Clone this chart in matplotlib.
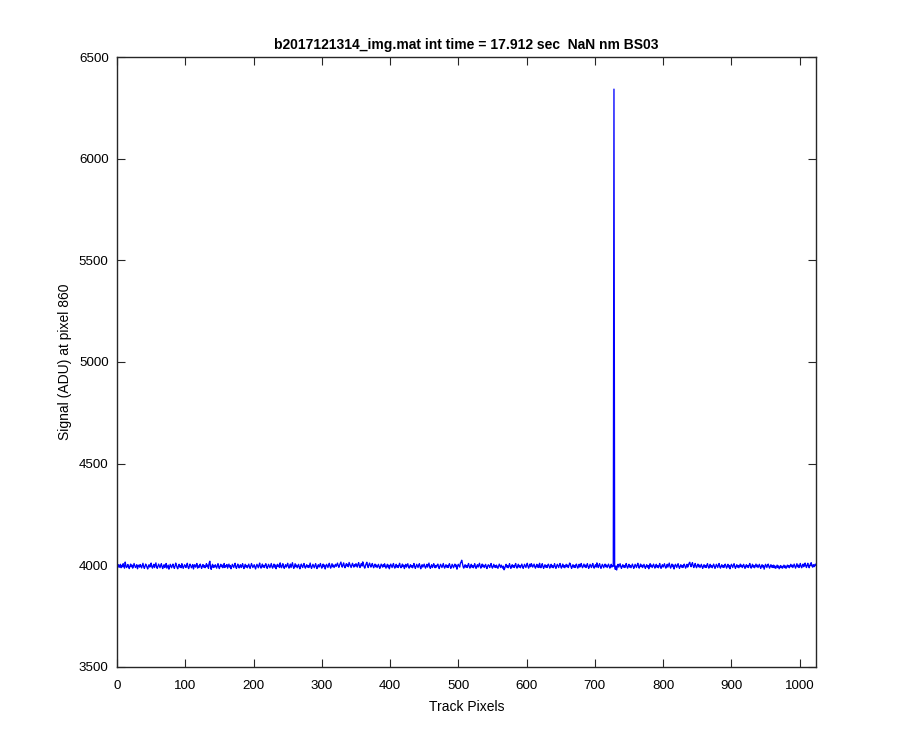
import numpy as np
import matplotlib
matplotlib.use("Agg")
import matplotlib.pyplot as plt

title_text = "b2017121314_img.mat int time = 17.912 sec  NaN nm BS03"
x_label = "Track Pixels"
y_label = "Signal (ADU) at pixel 860"
x_ticks = [0, 100, 200, 300, 400, 500, 600, 700, 800, 900, 1000]
y_ticks = [3500, 4000, 4500, 5000, 5500, 6000, 6500]

signal = [
3998,4003,3990,3996,4005,3988,3999,3993,4008,3995,3986,4016,3999,3989,3995,4004,3991,3984,3997,4006,3993,4001,3986,3996,4009,3999,3989,3994,4003,3983,3996,4001,
3991,4004,3997,3987,3999,4010,3995,3985,3994,4006,4000,3990,3982,3996,4003,3991,3999,4011,3993,3986,3998,4005,3989,4001,4012,3991,3985,3996,4006,3997,3988,3999,
4008,3993,3984,3996,4003,3989,3997,4009,3986,3994,4001,3981,3991,4005,3997,3988,3999,4006,3993,3985,3996,4011,4001,3989,3983,3997,4005,3991,3999,3988,4008,3995,
3985,3994,4003,3997,3989,4001,4010,3991,3984,3996,4006,3999,3988,3994,4004,3982,3996,4003,3991,3999,4009,3986,3997,3989,4001,4006,3993,3985,3997,4004,3991,3999,
3988,3997,4008,3993,4001,3985,4011,4020,3993,3980,3997,4005,3989,3999,3991,4003,3995,3986,3999,4008,3991,3984,3997,4005,3993,4001,3988,3996,4009,3989,3999,3994,
4004,3986,3996,4006,3991,3999,3983,3993,4005,3997,3989,4001,4010,3991,3985,3997,4006,3995,3987,3999,4003,3989,3997,4008,3993,3984,3996,4005,3991,3999,3988,3997,
4006,3993,3985,3997,4009,3999,3989,3996,4003,3991,3982,3996,4005,3997,3988,4001,4011,3993,3986,3997,4006,3991,3999,3989,4001,4008,3995,3985,3994,4005,3997,3988,
3999,4009,3993,3986,3997,4006,3991,4001,3983,3996,4005,3994,4001,3989,4012,3997,3988,3999,4008,3993,3985,3996,4003,3991,3999,4010,3995,3986,3997,4006,3989,4001,
4013,3995,3985,3997,4008,3993,4001,3988,3996,4005,3991,3983,3997,4006,3995,3989,4001,4009,3993,3986,3997,4003,3991,3999,3989,4001,4011,3993,3985,3996,4005,3997,
3988,3999,4008,3993,3984,3996,4003,3991,3999,4009,3995,3986,3997,4006,3993,4001,3982,3996,4005,3997,3989,4001,4010,3995,3986,3997,4008,3993,4001,3989,3997,4005,
3994,4003,4011,3998,3990,4001,4009,4016,3999,3991,4003,4012,3996,3988,3999,4008,3996,4005,3993,4014,4006,3997,3989,4001,4010,3999,3991,4003,3996,4008,4001,3991,
4005,4013,3997,3989,4001,4009,3996,4017,4006,3993,3986,3999,4008,4015,3997,3989,4003,4011,3999,3991,4001,4009,3996,3988,3999,4006,3993,4001,3989,3997,4005,3993,
3985,3996,4006,3999,3991,4003,3993,4008,3997,3986,3996,4005,3991,4001,3983,3996,4006,3997,3989,4001,4009,3993,3986,3997,4005,3991,3999,3989,4001,4010,3995,3988,
3997,4006,3993,4001,3984,3996,4005,3991,3999,4008,3993,3986,3997,4003,3991,3999,3988,3997,4009,3995,3985,3994,4005,3997,3989,4001,4008,3993,3983,3996,4003,3991,
3999,4006,3993,3986,3997,4005,3991,4001,4011,3993,3985,3996,4003,3989,3997,4008,3995,3988,3999,3991,4001,4006,3993,3984,3996,4005,3997,3989,3999,4009,3993,3986,
3997,4003,3991,3999,3989,4001,4008,3995,3985,3994,4005,3997,3988,3999,4006,3993,4001,3981,3996,4005,3997,3991,4010,4016,4025,4008,3993,3986,3997,4003,3991,3999,
3989,4001,4009,3993,3986,3997,4005,3991,3999,3988,3997,4008,3993,3985,3996,4003,3991,4001,4010,3995,3986,3997,4006,3993,4001,3989,3997,4005,3991,3984,3996,4003,
3997,3989,4001,4009,3993,3986,3996,4005,3991,3999,3989,4001,3993,3985,3996,4006,3997,3989,4001,3993,3986,3996,3978,3985,3997,4005,3991,3999,3988,3997,4008,3993,
3985,3996,4003,3991,3999,3989,4001,4009,3993,3986,3997,4005,3991,3999,3988,3997,4006,3995,3985,3994,4005,3997,3989,4001,4010,3995,3986,3997,4006,3993,4008,4001,
3991,3999,4006,3993,3986,3997,4005,3991,4001,3989,4010,3995,3988,3999,4008,3993,3985,3996,4003,3991,3999,3989,4001,4006,3995,3986,3997,4005,3991,3999,3988,3997,
4008,3993,3985,3996,4005,3997,3989,4001,4009,3995,3986,3997,4006,3991,3999,3988,3997,4005,3993,4001,3989,3997,4011,4008,3993,3985,3996,4003,3991,3999,3989,4001,
4006,3993,3986,3997,4005,3991,3999,4009,3995,3988,3997,4006,3993,4001,3989,3997,4008,3995,3985,3994,4005,3997,3989,4001,4009,3993,3986,3997,4003,3991,4012,3999,
3989,4001,4008,3993,3985,3996,4005,3997,3988,3999,4006,3993,4001,3989,3997,4006,3995,3986,3997,4005,3991,3999,3995,6342,3993,3980,3997,3977,3996,4005,3991,3999,
4008,3993,3985,3996,4003,3991,3999,3989,4001,4009,3993,3986,3997,4005,3991,3999,3988,3997,4006,3995,3985,3994,4005,3997,3989,4001,4010,3995,3986,3997,4006,3993,
4001,3989,3997,4005,3993,3985,3996,4003,3991,3999,3983,3997,4008,3993,4001,3989,3997,4006,3995,3986,3997,4005,3991,3999,3988,3997,4009,3993,3985,3996,4003,3991,
3999,4008,3993,3986,3997,4005,3991,4001,4011,3995,3986,3997,4006,3993,4001,3982,3996,4005,3997,3989,4001,4008,3993,3985,3996,4003,3991,3999,3989,4001,4006,3995,
3986,3997,4005,3991,3999,4010,4015,4001,3993,4006,4013,3997,3989,4001,4009,3995,3988,3999,4006,3993,4001,3989,3997,4005,3993,3985,3996,4003,3991,3999,3989,4001,
4008,3993,3986,3997,4005,3991,3999,3988,3997,4006,3995,3985,3994,4005,3997,3989,4001,4009,3993,3986,3997,4003,3991,3999,3989,4001,4006,3995,3986,3997,4005,3991,
3999,3983,3996,4005,3997,3989,4001,4008,3993,3985,3996,4003,3991,3999,3988,3997,4006,3993,4001,3989,3997,4005,3993,3985,3996,4003,3991,3999,3989,4001,4009,3995,
3986,3997,4005,3991,3999,3988,3997,4006,3993,4001,3989,3997,4005,3993,3985,3996,4003,3991,3999,3981,3993,4005,3997,3989,4001,4006,3993,3986,3997,4003,3991,3999,
3989,4001,3988,3996,3985,3993,4001,3989,3997,3983,3991,3999,3988,3996,3986,3993,4001,3989,3997,3985,3993,4001,3991,3999,3988,3997,4005,3993,4001,3989,3997,4006,
3995,3986,3997,4008,3993,4001,3989,3997,4009,3995,3988,3999,4006,3993,4001,4011,3997,3989,4001,4010,3995,3988,3999,4008,4013,3997,3991,4003,3993,4001,4006,3999,
]

track = np.arange(1, len(signal) + 1)

plt.rcParams['font.family'] = ['Liberation Sans', 'DejaVu Sans']

fig = plt.figure(figsize=(9, 7.5), dpi=100, facecolor='white')
ax = fig.add_axes([0.13, 0.1107, 0.7767, 0.8133])
ax.plot(track, signal, color=(0, 0, 1), linewidth=0.95)

ax.set_xlim(0, 1024)
ax.set_ylim(3500, 6500)
ax.set_xticks(x_ticks)
ax.set_yticks(y_ticks)

axis_color = (0.15, 0.15, 0.15)
for s in ax.spines.values():
    s.set_color(axis_color)
    s.set_linewidth(1.0)
ax.tick_params(direction='in', length=6, width=0.8, colors=axis_color,
               top=True, right=True, labelsize=9.6)
ax.tick_params(axis='x', pad=9.5)
ax.tick_params(axis='y', pad=6)
for lbl in ax.get_xticklabels() + ax.get_yticklabels():
    lbl.set_color('black')

ax.set_xlabel(x_label, fontsize=10, color='black', labelpad=5.5)
ax.set_ylabel(y_label, fontsize=10, color='black', labelpad=5)
ax.set_title(title_text, fontsize=10, fontweight='bold', pad=6)

fig.savefig("out.png", dpi=100, facecolor='white')
